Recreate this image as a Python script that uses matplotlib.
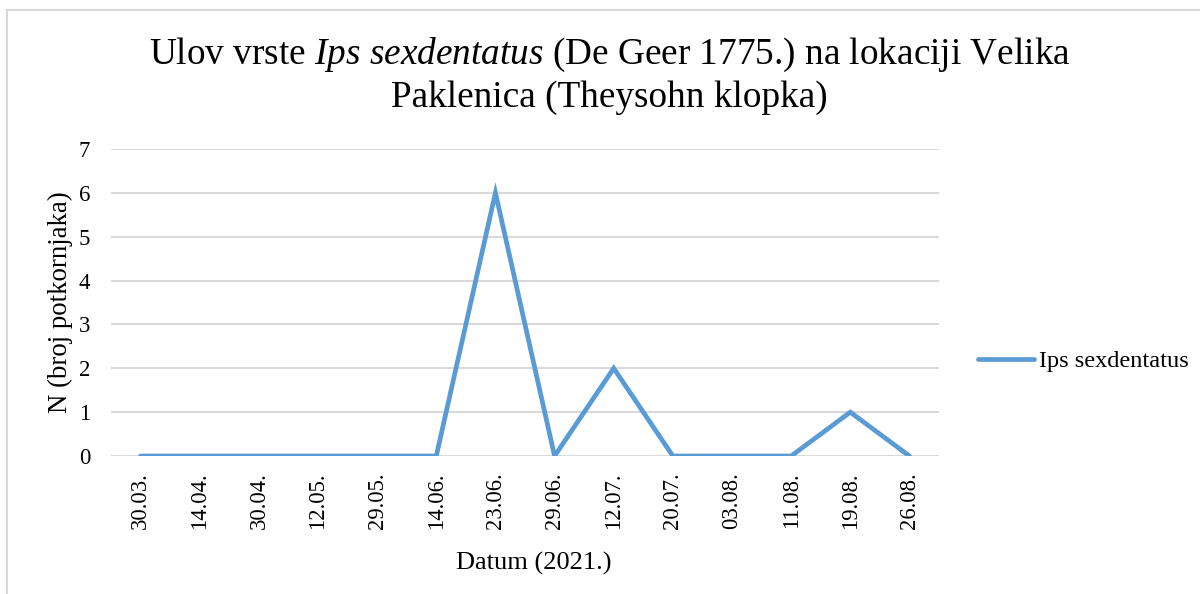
import matplotlib
matplotlib.use('Agg')
import matplotlib.pyplot as plt
from matplotlib.patches import Rectangle

plt.rcParams['font.family'] = 'Liberation Serif'
plt.rcParams['mathtext.fontset'] = 'custom'
plt.rcParams['mathtext.rm'] = 'Liberation Serif'
plt.rcParams['mathtext.it'] = 'Liberation Serif:italic'

dates = ['30.03.', '14.04.', '30.04.', '12.05.', '29.05.', '14.06.', '23.06.',
         '29.06.', '12.07.', '20.07.', '03.08.', '11.08.', '19.08.', '26.08.']
catch = [0, 0, 0, 0, 0, 0, 6, 0, 2, 0, 0, 0, 1, 0]
series_name = 'Ips sexdentatus'

fig = plt.figure(figsize=(12, 5.94), dpi=100)
ax = fig.add_axes([0.0925, 0.2323, 0.69, 0.5169])

# outer chart border (cut by the image edge)
fig.patches.append(Rectangle((7/1200, -0.1), 1.1, 1 - 10/594 + 0.1,
                             transform=fig.transFigure, fill=False,
                             edgecolor='#D9D9D9', linewidth=1.5))

x = list(range(len(dates)))
ax.plot(x, catch, color='#5B9BD5', linewidth=3.4, solid_capstyle='round',
        solid_joinstyle='miter', label=series_name, zorder=3)

ax.set_xlim(-0.5, len(dates) - 0.5)
ax.set_ylim(0, 7)
ax.set_yticks(range(0, 8))
ax.set_xticks(x)
ax.set_xticklabels(dates, rotation=90, fontsize=16.3)
ax.tick_params(axis='y', labelsize=16.5, length=0, pad=15)
ax.tick_params(axis='x', length=0, pad=12)
ax.grid(axis='y', color='#D9D9D9', linewidth=1.5)
ax.set_axisbelow(True)
for s in ax.spines.values():
    s.set_visible(False)

ax.set_ylabel('N (broj potkornjaka)', fontsize=19.3)
ax.yaxis.set_label_coords(-0.046, 0.5)
ax.set_xlabel('Datum (2021.)', fontsize=19)
ax.xaxis.set_label_coords(0.51, -0.311)

fig.text(0.508, 0.908, r'Ulov vrste $\it{Ips\ sexdentatus}$ (De Geer 1775.) na lokaciji Velika',
         ha='center', va='center', fontsize=26.8)
fig.text(0.508, 0.836, 'Paklenica (Theysohn klopka)', ha='center', va='center', fontsize=26.8)

fig.legend(loc='center left', bbox_to_anchor=(0.797, 0.392), frameon=False,
           fontsize=17.5, handlelength=2.3, handletextpad=0.2)

fig.savefig('out.png', dpi=100)
